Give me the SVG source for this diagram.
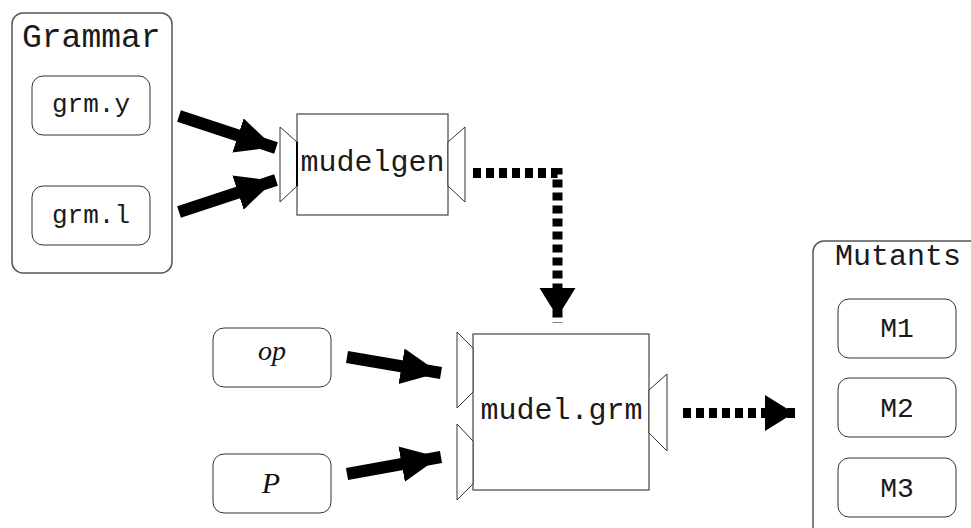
<svg xmlns="http://www.w3.org/2000/svg" width="971" height="528" viewBox="0 0 971 528">
  <style>
    .frame { fill: #fff; stroke: #555; stroke-width: 1.5; }
    .box { fill: #fff; stroke: #333; stroke-width: 1; }
    .block { fill: #fff; stroke: #444; stroke-width: 1.2; }
    .port { fill: #fff; stroke: #333; stroke-width: 1; }
    .mono { font-family: "Liberation Mono", "Courier New", monospace; fill: #1a1a1a; }
    .serif { font-family: "Liberation Serif", "Times New Roman", serif; font-style: italic; fill: #111; }
    .solid { fill: none; stroke: #000; stroke-width: 12; }
    .dotted { fill: none; stroke: #000; stroke-width: 10; stroke-dasharray: 8 5; }
  </style>
  <defs>
    <marker id="head" markerUnits="userSpaceOnUse" markerWidth="44" markerHeight="40" refX="40" refY="18" orient="auto">
      <path d="M0,0 L38,18 L0,36 z" fill="#000"/>
    </marker>
    <marker id="headDot" markerUnits="userSpaceOnUse" markerWidth="40" markerHeight="40" refX="35" refY="18" orient="auto">
      <path d="M0,0 L29,18 L0,36 z" fill="#000"/>
    </marker>
  </defs>

  <!-- grammar sources -->
  <g id="grammar">
    <rect class="frame" x="12" y="13" width="160" height="260" rx="11"/>
    <text class="mono" x="22" y="47" font-size="33">Grammar</text>
  </g>
  <g id="grm-y">
    <rect class="box" x="32" y="76" width="118" height="59" rx="11"/>
    <text class="mono" x="91" y="112" font-size="26" text-anchor="middle">grm.y</text>
  </g>
  <g id="grm-l">
    <rect class="box" x="32" y="186" width="118" height="59" rx="11"/>
    <text class="mono" x="91" y="223" font-size="26" text-anchor="middle">grm.l</text>
  </g>

  <!-- generator -->
  <g id="mudelgen">
    <rect class="block" x="297" y="114" width="151" height="101"/>
    <polygon class="port" points="280,127 297,142 297,186 280,202"/>
    <polygon class="port" points="448,142 465,127 465,202 448,186"/>
    <line x1="297" y1="142" x2="297" y2="186" stroke="#000" stroke-width="2"/>
    <text class="mono" x="372.5" y="171" font-size="30" text-anchor="middle">mudelgen</text>
  </g>

  <!-- inputs -->
  <g id="op">
    <rect class="box" x="213" y="328" width="118" height="59" rx="11"/>
    <text class="serif" x="272" y="360" font-size="28" text-anchor="middle">op</text>
  </g>
  <g id="P">
    <rect class="box" x="213" y="454" width="118" height="59" rx="11"/>
    <text class="serif" x="271" y="493" font-size="30" text-anchor="middle">P</text>
  </g>

  <!-- mutation engine -->
  <g id="mudel-grm">
    <rect class="block" x="473" y="334" width="176" height="156"/>
    <polygon class="port" points="457,332 473,348 473,392 457,408"/>
    <polygon class="port" points="457,424 473,441 473,484 457,500"/>
    <polygon class="port" points="649,390 667,374 667,451 649,433"/>
    <text class="mono" x="561.5" y="419" font-size="30" text-anchor="middle">mudel.grm</text>
  </g>

  <!-- outputs -->
  <g id="mutants">
    <rect class="frame" x="813" y="241" width="190" height="300" rx="11"/>
    <text class="mono" x="835" y="265" font-size="30">Mutants</text>
  </g>
  <g id="M1">
    <rect class="box" x="838" y="299" width="118" height="59" rx="11"/>
    <text class="mono" x="897" y="337" font-size="28" text-anchor="middle">M1</text>
  </g>
  <g id="M2">
    <rect class="box" x="838" y="378" width="118" height="59" rx="11"/>
    <text class="mono" x="897" y="417" font-size="28" text-anchor="middle">M2</text>
  </g>
  <g id="M3">
    <rect class="box" x="838" y="458" width="118" height="59" rx="11"/>
    <text class="mono" x="897" y="497" font-size="28" text-anchor="middle">M3</text>
  </g>

  <!-- connectors -->
  <g id="connectors">
    <line class="solid" x1="179" y1="116" x2="276" y2="148" marker-end="url(#head)"/>
    <line class="solid" x1="179" y1="212" x2="276" y2="180" marker-end="url(#head)"/>
    <line class="solid" x1="347" y1="357" x2="441" y2="373" marker-end="url(#head)"/>
    <line class="solid" x1="347" y1="474" x2="441" y2="457" marker-end="url(#head)"/>
    <path class="dotted" d="M473,173 H557.5 V323" marker-end="url(#headDot)"/>
    <path class="dotted" d="M683,413 H800" marker-end="url(#headDot)"/>
  </g>
</svg>
